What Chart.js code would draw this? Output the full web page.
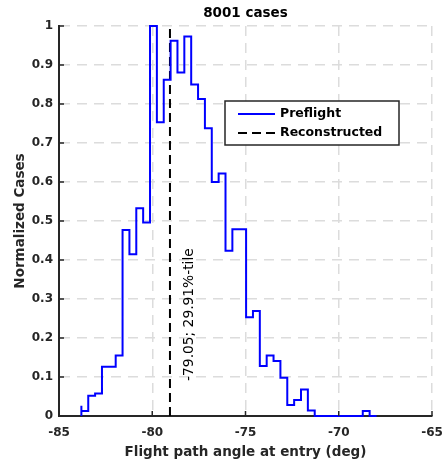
<!DOCTYPE html>
<html>
<head>
<meta charset="utf-8">
<script src="https://cdn.jsdelivr.net/npm/chart.js@4.4.1/dist/chart.umd.min.js"></script>
<style>
  html, body { margin: 0; padding: 0; background: #fff; }
</style>
</head>
<body>
<canvas id="chart-entry-angle" width="443" height="469"></canvas>
<script>
// histogram bins (deg)
var binStart = -83.80;
var binWidth = 0.368;
// normalized counts per bin
var preflight = [
    0.026, 0.013, 0.052, 0.058, 0.126, 0.126, 0.155, 0.477, 0.415, 0.533,
    0.496, 1.000, 0.753, 0.862, 0.962, 0.881, 0.973, 0.850, 0.813, 0.738,
    0.600, 0.622, 0.424, 0.479, 0.479, 0.253, 0.269, 0.128, 0.155, 0.141,
    0.098, 0.028, 0.041, 0.068, 0.014, 0, 0, 0, 0, 0,
    0, 0, 0.013
];
var reconstructed = -79.05;
var reconstructedPct = 29.91;
var xTicks = [-85, -80, -75, -70, -65];
var yTicks = [0, 0.1, 0.2, 0.3, 0.4, 0.5, 0.6, 0.7, 0.8, 0.9, 1];
var titleText = '8001 cases';

var textColor = '#262626';
Chart.defaults.font.family = '"DejaVu Sans", sans-serif';

function stairsPoints(values) {
    var pts = [{x: binStart, y: 0}];
    values.forEach(function (v, i) {
        pts.push({x: binStart + i * binWidth, y: v});
    });
    pts.push({x: binStart + values.length * binWidth, y: 0});
    return pts;
}

var overlay = {
    id: 'overlay',
    afterDatasetsDraw: function (chart) {
        var ctx = chart.ctx;
        var a = chart.chartArea;
        var xs = chart.scales.x, ys = chart.scales.y;

        // title centred over the axes box
        ctx.save();
        ctx.fillStyle = '#000';
        ctx.font = 'bold 13.5px "DejaVu Sans"';
        ctx.textAlign = 'center';
        ctx.textBaseline = 'middle';
        ctx.fillText(titleText, (a.left + a.right) / 2, 13);
        ctx.restore();

        // tick marks pointing inwards
        ctx.save();
        ctx.strokeStyle = textColor;
        ctx.lineWidth = 1.5;
        xTicks.forEach(function (t) {
            var px = xs.getPixelForValue(t);
            ctx.beginPath();
            ctx.moveTo(px, a.bottom);
            ctx.lineTo(px, a.bottom - 5);
            ctx.stroke();
        });
        yTicks.forEach(function (t) {
            var py = ys.getPixelForValue(t);
            ctx.beginPath();
            ctx.moveTo(a.left, py);
            ctx.lineTo(a.left + 5, py);
            ctx.stroke();
        });
        ctx.restore();

        // percentile note next to the dashed line
        ctx.save();
        ctx.translate(xs.getPixelForValue(reconstructed) + 19, ys.getPixelForValue(0.09));
        ctx.rotate(-Math.PI / 2);
        ctx.font = '13.8px "DejaVu Sans"';
        ctx.fillStyle = '#000';
        ctx.textAlign = 'left';
        ctx.textBaseline = 'middle';
        ctx.fillText(reconstructed.toFixed(2) + '; ' + reconstructedPct.toFixed(2) + '%-tile', 0, 0);
        ctx.restore();

        // legend box
        var bx = a.right - 207, by = a.top + 75, bw = 174, bh = 44;
        ctx.save();
        ctx.fillStyle = '#fff';
        ctx.fillRect(bx, by, bw, bh);
        ctx.strokeStyle = textColor;
        ctx.lineWidth = 1.5;
        ctx.strokeRect(bx, by, bw, bh);
        ctx.lineWidth = 2;
        ctx.strokeStyle = '#0000ff';
        ctx.beginPath();
        ctx.moveTo(bx + 13, by + 13);
        ctx.lineTo(bx + 50, by + 13);
        ctx.stroke();
        ctx.strokeStyle = '#000';
        ctx.setLineDash([9, 5]);
        ctx.beginPath();
        ctx.moveTo(bx + 13, by + 32);
        ctx.lineTo(bx + 50, by + 32);
        ctx.stroke();
        ctx.setLineDash([]);
        ctx.fillStyle = '#000';
        ctx.font = 'bold 12.5px "DejaVu Sans"';
        ctx.textBaseline = 'middle';
        ctx.fillText('Preflight', bx + 55, by + 13);
        ctx.fillText('Reconstructed', bx + 55, by + 32);
        ctx.restore();
    }
};

function tickText(v) { return String(+v.toFixed(1)); }

new Chart(document.getElementById('chart-entry-angle').getContext('2d'), {
    type: 'line',
    data: {
        datasets: [{
            label: 'Preflight',
            data: stairsPoints(preflight),
            stepped: 'after',
            borderColor: '#0000ff',
            borderWidth: 2,
            pointRadius: 0,
            fill: false,
            clip: false
        }, {
            label: 'Reconstructed',
            data: [{x: reconstructed, y: 0}, {x: reconstructed, y: 1}],
            borderColor: '#000',
            borderWidth: 2,
            borderDash: [9, 5],
            pointRadius: 0,
            fill: false,
            clip: false
        }]
    },
    options: {
        responsive: false,
        animation: false,
        layout: {padding: {top: 26, left: 0, right: 0, bottom: 0}},
        plugins: {
            legend: {display: false},
            tooltip: {enabled: false},
            title: {display: false}
        },
        scales: {
            x: {
                type: 'linear',
                min: -85,
                max: -65,
                afterBuildTicks: function (s) { s.ticks = xTicks.map(function (v) { return {value: v}; }); },
                afterFit: function (s) {
                    s.height = 53;
                    s.paddingLeft = 0;
                    s.paddingRight = 11;
                },
                ticks: {color: textColor, font: {size: 12, weight: 'bold'}, padding: 10, callback: tickText},
                grid: {
                    drawTicks: false,
                    lineWidth: 1.5,
                    color: function (c) { return c.tick && c.tick.value === -85 ? 'rgba(0,0,0,0)' : '#dcdcdc'; }
                },
                border: {display: true, color: textColor, width: 2, dash: [10, 7]},
                title: {
                    display: true,
                    text: 'Flight path angle at entry (deg)',
                    color: textColor,
                    font: {size: 13.5, weight: 'bold'},
                    padding: {top: 0, bottom: 8}
                }
            },
            y: {
                min: 0,
                max: 1,
                afterBuildTicks: function (s) { s.ticks = yTicks.map(function (v) { return {value: v}; }); },
                afterFit: function (s) {
                    s.width = 59;
                    s.paddingTop = 0;
                },
                ticks: {color: textColor, font: {size: 12, weight: 'bold'}, padding: 6, callback: tickText},
                grid: {
                    drawTicks: false,
                    lineWidth: 1.5,
                    color: function (c) { return c.tick && c.tick.value === 0 ? 'rgba(0,0,0,0)' : '#dcdcdc'; }
                },
                border: {display: true, color: textColor, width: 2, dash: [10, 7]},
                title: {
                    display: true,
                    text: 'Normalized Cases',
                    color: textColor,
                    font: {size: 13.5, weight: 'bold'},
                    padding: {top: 12, bottom: 0}
                }
            }
        }
    },
    plugins: [overlay]
});
</script>
</body>
</html>
